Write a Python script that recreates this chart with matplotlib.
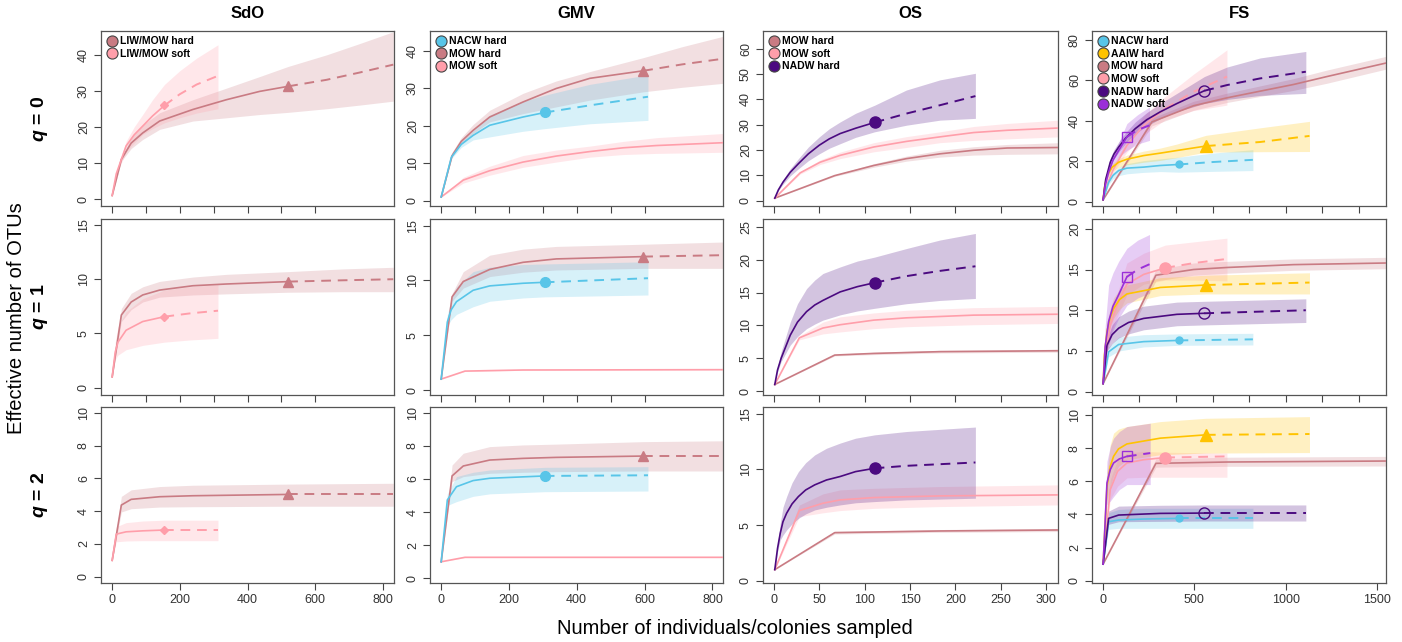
import matplotlib
matplotlib.use("Agg")
import matplotlib.pyplot as plt
import numpy as np
from matplotlib.lines import Line2D

plt.rcParams['font.family'] = ['Liberation Sans', 'DejaVu Sans']
plt.rcParams['mathtext.fontset'] = 'custom'
plt.rcParams['mathtext.it'] = 'Liberation Sans:italic:bold'
plt.rcParams['mathtext.rm'] = 'Liberation Sans:bold'

# ---------------- data: rows of (x, estimate, lower CI, upper CI) ----------------
# ---- SdO ----
SDO0_HARD = [(1, 1, 1, 1), (28, 11, 10.5, 11.5), (57, 15.5, 14, 17), (91, 18.3, 16.5, 20.5),
             (141, 21.6, 19.3, 23.9), (239, 24.8, 21.6, 27.5), (338, 27.5, 22.5, 30.7),
             (436, 29.8, 23.4, 33.9), (520, 31.2, 24.0, 36.7), (633, 33.0, 25.0, 39.9),
             (730, 35.0, 26.0, 43.0), (830, 37.2, 27.1, 46.3)]
SDO0_SOFT = [(1, 1, 1, 1), (13, 7, 6.5, 7.5), (28, 11, 10, 12), (42, 14.7, 13, 16),
             (66, 17.8, 15.5, 20), (91, 20.2, 17.9, 23.4), (120, 23.0, 19.5, 27.5),
             (155, 25.9, 21.1, 31.7), (200, 29.0, 22.5, 35.5), (250, 31.7, 23.8, 39.0),
             (313, 34.1, 25.0, 42.7)]
SDO1_HARD = [(1, 1, 1, 1), (28, 6.7, 6.1, 7.3), (57, 7.9, 7.2, 8.7), (91, 8.55, 7.9, 9.3),
             (141, 9.0, 8.35, 9.8), (239, 9.4, 8.55, 10.2), (338, 9.56, 8.65, 10.45),
             (520, 9.78, 8.8, 10.7), (680, 9.9, 8.85, 10.95), (830, 10.0, 8.85, 11.1)]
SDO1_SOFT = [(1, 1, 1, 1), (10, 3.3, 2.6, 4.2), (18, 4.2, 3.0, 5.6), (42, 5.3, 3.5, 7.0),
             (91, 6.1, 3.9, 8.2), (155, 6.55, 4.2, 9.0), (230, 6.85, 4.4, 9.3), (313, 7.1, 4.55, 9.5)]
SDO2_HARD = [(1, 1, 1, 1), (28, 4.37, 3.95, 4.9), (57, 4.72, 4.15, 5.3), (141, 4.88, 4.25, 5.5),
             (239, 4.94, 4.27, 5.58), (520, 5.02, 4.3, 5.65), (830, 5.02, 4.3, 5.7)]
SDO2_SOFT = [(1, 1, 1, 1), (13, 2.6, 2.13, 3.05), (42, 2.74, 2.18, 3.3), (91, 2.8, 2.2, 3.4),
             (155, 2.85, 2.2, 3.45), (313, 2.85, 2.2, 3.45)]
SDO_OBS = {'hard': 520, 'soft': 155}

# ---- GMV ----
GMV0_MOWH = [(1, 1, 1, 1), (33, 12, 11.6, 12.9), (60, 15.8, 15.1, 16.8), (95, 18.75, 17.9, 20.3),
             (144, 22.3, 21, 24.1), (242, 26.3, 23.2, 28.6), (340, 29.9, 25, 31.9),
             (439, 32.6, 26.8, 34.4), (596, 34.6, 29, 38.1), (710, 36.3, 30.2, 41),
             (830, 37.8, 31.25, 43.75)]
GMV0_NACW = [(1, 1, 1, 1), (31, 11.6, 11.2, 12), (60, 15.0, 14.2, 15.8), (95, 17.4, 16.2, 18.7),
             (144, 20.1, 17, 22.8), (242, 22.3, 18.5, 26.5), (306, 23.5, 19.2, 28.1),
             (439, 25.4, 20.5, 31), (610, 27.7, 21.4, 33.5)]
GMV0_MOWS = [(1, 1, 1, 1), (66, 5.5, 4.7, 6.25), (144, 8.0, 6.8, 9.2), (242, 10.3, 8.9, 12.05),
             (340, 11.9, 10.3, 13.5), (439, 13.1, 11.6, 14.55), (537, 14.1, 12.3, 15.8),
             (635, 14.7, 12.6, 16.8), (830, 15.45, 12.9, 17.9)]
GMV1_MOWH = [(1, 1, 1, 1), (33, 8.5, 8.1, 8.8), (66, 9.9, 9.3, 10.8), (144, 11.0, 10.35, 12.3),
             (242, 11.65, 10.75, 12.85), (340, 11.96, 10.95, 13.1), (596, 12.17, 11.1, 13.3),
             (830, 12.3, 11.1, 13.5)]
GMV1_NACW = [(1, 1, 1, 1), (19, 6.2, 5.8, 6.85), (30, 7.3, 6.4, 8.2), (46, 8.06, 6.9, 9.4),
             (95, 9.1, 7.6, 10.8), (144, 9.5, 8.1, 11.2), (242, 9.74, 8.4, 11.45),
             (306, 9.83, 8.5, 11.5), (610, 10.2, 8.67, 11.7)]
GMV1_MOWS = [(1, 1, 1, 1), (71, 1.73, 1.7, 1.76), (242, 1.83, 1.8, 1.86), (830, 1.86, 1.83, 1.89)]
GMV2_MOWH = [(1, 1, 1, 1), (33, 6.18, 5.84, 6.84), (66, 6.78, 6.14, 7.55), (144, 7.14, 6.34, 7.95),
             (242, 7.24, 6.4, 8.05), (340, 7.3, 6.44, 8.1), (596, 7.38, 6.48, 8.25),
             (830, 7.38, 6.48, 8.3)]
GMV2_NACW = [(1, 1, 1, 1), (19, 4.73, 4.4, 5.1), (46, 5.53, 4.63, 6.14), (95, 5.9, 4.95, 6.4),
             (144, 6.04, 5.1, 6.54), (306, 6.18, 5.23, 6.7), (610, 6.22, 5.27, 6.74)]
GMV2_MOWS = [(1, 1, 1, 1), (71, 1.27, 1.25, 1.29), (830, 1.27, 1.25, 1.29)]
GMV_OBS = {'mowh': 596, 'nacw': 306}

# ---- OS ----
OS0_NADW = [(1, 1, 1, 1), (5, 4.3, 4.0, 4.7), (10, 7.3, 6.5, 8.2), (18, 11.2, 9.8, 12.6),
            (27, 14.6, 12.6, 16.6), (38, 18.5, 15.8, 21.2), (50, 21.9, 18.5, 25.2),
            (61, 24.4, 20.7, 28.4), (73, 26.5, 22.5, 31.1), (90, 28.6, 25.0, 34.5),
            (111, 30.9, 27.2, 37.7), (146, 34.4, 29.8, 43.7), (183, 37.7, 31.8, 47.7),
            (222, 41.3, 32.5, 50.3)]
OS0_MOWS = [(1, 1, 1, 1), (29, 11, 10.5, 11.5), (51, 15.2, 14.3, 16.1), (73, 17.9, 16.6, 19.2),
            (110, 21.2, 19.3, 22.9), (146, 23.4, 21.0, 25.3), (183, 25.2, 22.9, 27.2),
            (220, 26.9, 23.8, 29.3), (257, 27.8, 24.4, 30.5), (314, 28.7, 25.2, 31.8)]
OS0_MOWH = [(1, 1, 1, 1), (67, 9.9, 9.6, 10.2), (110, 13.9, 13.2, 14.6), (146, 16.6, 15.6, 17.6),
            (183, 18.5, 17.2, 19.9), (220, 19.9, 18.0, 21.3), (257, 20.8, 18.3, 22.2),
            (314, 21.0, 18.5, 22.9)]
OS1_NADW = [(1, 1, 1, 1), (4, 3.2, 2.9, 3.6), (8, 5.0, 4.5, 6.0), (18, 8.5, 7.0, 10.5),
            (26, 10.5, 8.3, 13.3), (36, 12.1, 9.5, 15.6), (45, 13.1, 10.2, 16.9),
            (54, 13.8, 10.8, 17.9), (73, 15.1, 11.6, 18.9), (92, 15.9, 12.2, 19.8),
            (111, 16.5, 12.6, 20.4), (146, 17.5, 13.3, 21.7), (183, 18.3, 13.8, 23.0),
            (222, 19.0, 14.1, 24.0)]
OS1_MOWS = [(1, 1, 1, 1), (28, 8.1, 7.8, 8.4), (54, 9.6, 8.7, 10.5), (73, 10.1, 9.0, 11.3),
            (110, 10.8, 9.5, 11.9), (146, 11.15, 9.8, 12.3), (220, 11.56, 10.1, 12.7),
            (314, 11.7, 10.3, 12.9)]
OS1_MOWH = [(1, 1, 1, 1), (67, 5.48, 5.35, 5.6), (110, 5.73, 5.55, 5.9), (183, 6.0, 5.8, 6.2),
            (314, 6.14, 5.92, 6.36)]
OS2_NADW = [(1, 1, 1, 1), (4, 2.9, 2.6, 3.3), (7, 4.26, 3.66, 5.16), (10, 5.3, 4.1, 6.6),
            (14, 6.06, 4.56, 7.56), (20, 6.9, 5.1, 8.8), (27, 7.56, 5.6, 9.8), (35, 8.15, 6.0, 10.6),
            (45, 8.61, 6.36, 11.3), (58, 9.05, 6.6, 11.9), (73, 9.36, 6.81, 12.36),
            (90, 9.8, 7.0, 12.8), (111, 10.1, 7.11, 13.1), (146, 10.32, 7.26, 13.4),
            (222, 10.62, 7.41, 13.8)]
OS2_MOWS = [(1, 1, 1, 1), (28, 6.3, 5.76, 6.8), (54, 6.96, 6.1, 7.8), (73, 7.26, 6.3, 8.16),
            (110, 7.47, 6.5, 8.3), (183, 7.62, 6.66, 8.46), (314, 7.71, 6.81, 8.61)]
OS2_MOWH = [(1, 1, 1, 1), (67, 4.32, 4.2, 4.45), (183, 4.47, 4.35, 4.6), (314, 4.56, 4.42, 4.7)]
OS_OBS = {'nadw': 111}

# ---- FS ----
FS0_NACW = [(1, 1, 1, 1), (31, 9.6, 8.5, 10.8), (55, 13.0, 11.3, 14.5), (86, 15.4, 12.9, 17.0),
            (131, 16.6, 13.8, 18.8), (223, 17.1, 14.5, 20.3), (314, 17.9, 14.9, 21.2),
            (414, 18.4, 14.6, 22.0), (600, 19.6, 15.0, 24.0), (821, 20.7, 15.4, 25.7)]
FS0_AAIW = [(1, 1, 1, 1), (8, 7, 6.4, 7.7), (22, 12.9, 11.5, 14.3), (50, 17, 15, 18.8),
            (86, 19.5, 17, 21.2), (131, 21.0, 18.2, 23.0), (223, 22.8, 19.5, 25.0),
            (314, 24.0, 20.4, 26.5), (405, 25.3, 21.8, 28.5), (564, 27.5, 24.5, 32.8),
            (861, 29.5, 24.7, 36.5), (1131, 32.5, 24.8, 39.7)]
FS0_MOWH = [(1, 1, 1, 1), (268, 39.4, 37.5, 41.3), (496, 47.4, 45.2, 49.6), (679, 51.3, 49, 53.6),
            (861, 54.6, 52, 57.2), (1044, 57.9, 55, 60.8), (1226, 61.8, 58.5, 65),
            (1551, 68.5, 65.5, 71.8)]
FS0_MOWS = [(1, 1, 1, 1), (20, 8, 7.3, 8.8), (58, 16.2, 14.5, 18), (131, 27.8, 24.5, 31),
            (223, 37.7, 33, 42.5), (341, 46, 40.5, 52), (496, 54.3, 45, 63), (679, 61.8, 47.7, 75)]
FS0_NADWH = [(1, 1, 1, 1), (15, 11, 10, 12), (40, 19.5, 17.5, 21.5), (60, 23.5, 21.3, 25.7),
             (86, 27, 24.5, 29.5), (125, 31.5, 29, 34.2), (177, 36.1, 33.6, 39.4),
             (240, 40.5, 37.4, 44), (314, 44.4, 41, 48.5), (405, 48.5, 44.5, 53.5),
             (555, 54.8, 48.5, 61.8), (679, 57.6, 50.5, 66.5), (861, 60.9, 52.5, 71),
             (1111, 64.2, 53.5, 74.2)]
FS0_NADWS = [(1, 1, 1, 1), (12, 8, 7.3, 9), (31, 14.6, 13, 16.5), (55, 20.5, 18, 23.5),
             (86, 25.3, 22, 29), (131, 32, 25.3, 38.6), (190, 35.5, 28.5, 43), (255, 37.7, 30.3, 46.8)]
FS1_NACW = [(1, 1, 1, 1), (31, 4.9, 4.3, 5.5), (86, 5.8, 5.0, 6.7), (223, 6.15, 5.5, 7.0),
            (414, 6.3, 5.7, 7.1), (821, 6.43, 5.74, 7.17)]
FS1_AAIW = [(1, 1, 1, 1), (8, 4.5, 4, 5), (22, 7.4, 6.5, 8.3), (38, 9.0, 7.9, 10.1),
            (58, 10.2, 9.0, 11.5), (90, 11.3, 10.1, 12.5), (131, 12.0, 10.9, 13.1),
            (314, 12.8, 11.8, 14.0), (564, 13.1, 12.0, 14.3), (1131, 13.4, 12.0, 14.6)]
FS1_MOWH = [(1, 1, 1, 1), (290, 14.3, 13.6, 15.0), (496, 15.0, 14.3, 15.8), (679, 15.25, 14.55, 16.0),
            (1044, 15.6, 14.9, 16.3), (1551, 15.8, 15.1, 16.5)]
FS1_MOWS = [(1, 1, 1, 1), (15, 4.5, 3.9, 5.2), (40, 8.2, 7, 9.4), (86, 11.1, 9.6, 12.6),
            (131, 13.2, 11.9, 15.8), (223, 14.4, 13.2, 17.0), (341, 15.2, 13.7, 18.0),
            (500, 15.8, 13.7, 18.4), (679, 16.3, 13.6, 18.85)]
FS1_NADWH = [(1, 1, 1, 1), (22, 5.7, 5.0, 6.4), (50, 7.0, 5.9, 8.2), (86, 7.8, 6.6, 9.2),
             (140, 8.5, 7.1, 9.9), (223, 9.0, 7.6, 10.5), (405, 9.5, 8.1, 11.0),
             (555, 9.63, 8.2, 11.1), (1111, 10.0, 8.5, 11.4)]
FS1_NADWS = [(1, 1, 1, 1), (12, 5.5, 3.8, 8), (31, 8.6, 5.7, 13.1), (55, 10.5, 7.5, 14.6),
             (86, 11.9, 9.0, 16.0), (131, 14.1, 10.6, 17.6), (190, 15.0, 11.5, 18.6),
             (255, 15.65, 12.1, 19.3)]
FS2_AAIW = [(1, 1, 1, 1), (22, 5.67, 4.8, 6.5), (40, 6.9, 5.7, 8.2), (58, 7.5, 6.3, 8.9),
            (85, 7.95, 6.9, 9.15), (131, 8.25, 7.3, 9.3), (314, 8.6, 7.6, 9.6),
            (564, 8.8, 7.7, 9.8), (1131, 8.85, 7.73, 9.9)]
FS2_NADWS = [(1, 1, 1, 1), (22, 5.9, 4.6, 7.2), (40, 6.7, 4.8, 8.1), (58, 7.1, 5.07, 8.6),
             (90, 7.35, 5.5, 9.0), (131, 7.5, 5.8, 9.3), (259, 7.7, 5.8, 9.5)]
FS2_MOWS = [(1, 1, 1, 1), (40, 5.5, 4.9, 6.1), (80, 6.6, 5.7, 7.3), (131, 7.1, 6.2, 7.7),
            (223, 7.3, 6.24, 7.8), (341, 7.43, 6.24, 7.75), (679, 7.5, 6.24, 7.7)]
FS2_MOWH = [(1, 1, 1, 1), (290, 7.08, 6.85, 7.35), (679, 7.16, 6.9, 7.45), (1551, 7.22, 6.92, 7.5)]
FS2_NADWH = [(1, 1, 1, 1), (31, 3.76, 3.4, 4.2), (86, 3.96, 3.56, 4.5), (314, 4.06, 3.58, 4.55),
             (555, 4.08, 3.6, 4.57), (1111, 4.08, 3.6, 4.57)]
FS2_NACW = [(1, 1, 1, 1), (31, 3.56, 3.1, 4.1), (86, 3.66, 3.16, 4.3), (223, 3.72, 3.16, 4.37),
            (414, 3.76, 3.16, 4.37), (821, 3.76, 3.16, 4.37)]
FS_OBS = {'nacw': 414, 'aaiw': 564, 'mows': 341, 'nadwh': 555, 'nadws': 131}

COLUMN_TITLES = ["SdO", "GMV", "OS", "FS"]
Q_ORDERS = [0, 1, 2]
LEGENDS = [["LIW/MOW hard", "LIW/MOW soft"],
           ["NACW hard", "MOW hard", "MOW soft"],
           ["MOW hard", "MOW soft", "NADW hard"],
           ["NACW hard", "AAIW hard", "MOW hard", "MOW soft", "NADW hard", "NADW soft"]]
X_LABEL = "Number of individuals/colonies sampled"
Y_LABEL = "Effective number of OTUs"

# ---------------- styles ----------------
C_MOWH = '#C97B83'
C_MOWS = '#FF9EAA'
C_NACW = '#58C5E8'
C_AAIW = '#FFC300'
C_NADWH = '#4B0A80'
C_NADWS = '#9A2FD8'

# panel content: (data, colour, observed size, marker, filled, markersize)
PANELS = {
    (0, 0): [(SDO0_HARD, C_MOWH, SDO_OBS['hard'], '^', True, 7), (SDO0_SOFT, C_MOWS, SDO_OBS['soft'], 'D', True, 4)],
    (1, 0): [(SDO1_HARD, C_MOWH, SDO_OBS['hard'], '^', True, 7), (SDO1_SOFT, C_MOWS, SDO_OBS['soft'], 'D', True, 4)],
    (2, 0): [(SDO2_HARD, C_MOWH, SDO_OBS['hard'], '^', True, 7), (SDO2_SOFT, C_MOWS, SDO_OBS['soft'], 'D', True, 4)],
    (0, 1): [(GMV0_MOWS, C_MOWS, None, None, True, 0), (GMV0_MOWH, C_MOWH, GMV_OBS['mowh'], '^', True, 7),
             (GMV0_NACW, C_NACW, GMV_OBS['nacw'], 'o', True, 7)],
    (1, 1): [(GMV1_MOWS, C_MOWS, None, None, True, 0), (GMV1_MOWH, C_MOWH, GMV_OBS['mowh'], '^', True, 7),
             (GMV1_NACW, C_NACW, GMV_OBS['nacw'], 'o', True, 7)],
    (2, 1): [(GMV2_MOWS, C_MOWS, None, None, True, 0), (GMV2_MOWH, C_MOWH, GMV_OBS['mowh'], '^', True, 7),
             (GMV2_NACW, C_NACW, GMV_OBS['nacw'], 'o', True, 7)],
    (0, 2): [(OS0_MOWH, C_MOWH, None, None, True, 0), (OS0_MOWS, C_MOWS, None, None, True, 0),
             (OS0_NADW, C_NADWH, OS_OBS['nadw'], 'o', True, 8)],
    (1, 2): [(OS1_MOWH, C_MOWH, None, None, True, 0), (OS1_MOWS, C_MOWS, None, None, True, 0),
             (OS1_NADW, C_NADWH, OS_OBS['nadw'], 'o', True, 8)],
    (2, 2): [(OS2_MOWH, C_MOWH, None, None, True, 0), (OS2_MOWS, C_MOWS, None, None, True, 0),
             (OS2_NADW, C_NADWH, OS_OBS['nadw'], 'o', True, 8)],
    (0, 3): [(FS0_MOWH, C_MOWH, None, None, True, 0), (FS0_MOWS, C_MOWS, FS_OBS['mows'], 'o', True, 0),
             (FS0_NACW, C_NACW, FS_OBS['nacw'], 'o', True, 5), (FS0_AAIW, C_AAIW, FS_OBS['aaiw'], '^', True, 8),
             (FS0_NADWH, C_NADWH, FS_OBS['nadwh'], 'o', False, 8), (FS0_NADWS, C_NADWS, FS_OBS['nadws'], 's', False, 7)],
    (1, 3): [(FS1_MOWH, C_MOWH, None, None, True, 0), (FS1_MOWS, C_MOWS, FS_OBS['mows'], 'o', True, 8),
             (FS1_NACW, C_NACW, FS_OBS['nacw'], 'o', True, 5), (FS1_AAIW, C_AAIW, FS_OBS['aaiw'], '^', True, 8),
             (FS1_NADWH, C_NADWH, FS_OBS['nadwh'], 'o', False, 8), (FS1_NADWS, C_NADWS, FS_OBS['nadws'], 's', False, 7)],
    (2, 3): [(FS2_MOWH, C_MOWH, None, None, True, 0), (FS2_MOWS, C_MOWS, FS_OBS['mows'], 'o', True, 8),
             (FS2_NACW, C_NACW, FS_OBS['nacw'], 'o', True, 5), (FS2_AAIW, C_AAIW, FS_OBS['aaiw'], '^', True, 8),
             (FS2_NADWH, C_NADWH, FS_OBS['nadwh'], 'o', False, 8), (FS2_NADWS, C_NADWS, FS_OBS['nadws'], 's', False, 7)],
}
LEGEND_COLORS = [[C_MOWH, C_MOWS], [C_NACW, C_MOWH, C_MOWS], [C_MOWH, C_MOWS, C_NADWH],
                 [C_NACW, C_AAIW, C_MOWH, C_MOWS, C_NADWH, C_NADWS]]

XLIMS = [(-32, 832), (-32, 831), (-12, 313), (-60, 1550)]
XT_BOTTOM = [[0, 200, 400, 600, 800], [0, 200, 400, 600, 800], [0, 50, 100, 150, 200, 250, 300],
             [0, 500, 1000, 1500]]
XT_UPPER = [list(range(0, 601, 100)), list(range(0, 601, 100)), list(range(0, 301, 50)),
            list(range(0, 1401, 200))]
YLIMS = [[(-1.9, 46.5), (-1.4, 45.2), (-2.1, 67), (-2.1, 84.3)],
         [(-0.67, 15.55), (-0.45, 15.6), (-0.6, 26.2), (-0.4, 21.2)],
         [(-0.38, 10.35), (-0.28, 10.34), (-0.2, 15.6), (-0.14, 10.48)]]
YSTEPS = [[10, 10, 10, 20], [5, 5, 5, 5], [2, 2, 5, 2]]

W, H = 1402, 642
COL_X = [(101, 394), (430, 723), (763, 1058), (1092, 1386)]
ROW_Y = [(31, 206), (219, 395), (407, 583)]

fig = plt.figure(figsize=(W / 100, H / 100), dpi=100)
for r in range(3):
    for c in range(4):
        x0, x1 = COL_X[c]
        y0, y1 = ROW_Y[r]
        ax = fig.add_axes([x0 / W, 1 - y1 / H, (x1 - x0) / W, (y1 - y0) / H])
        for item in PANELS[(r, c)]:
            pts, col, obs, mk, filled, ms = item
            a = np.array(pts, float)
            x, y, lo, hi = a.T
            ax.fill_between(x, lo, hi, color=col, alpha=0.24, lw=0, zorder=1)
        for item in PANELS[(r, c)]:
            pts, col, obs, mk, filled, ms = item
            a = np.array(pts, float)
            x, y, lo, hi = a.T
            if obs is None:
                ax.plot(x, y, color=col, lw=1.2, zorder=3, solid_joinstyle='round')
            else:
                m1 = x <= obs
                m2 = x >= obs
                ax.plot(x[m1], y[m1], color=col, lw=1.2, zorder=3, solid_joinstyle='round')
                ax.plot(x[m2], y[m2], color=col, lw=1.4, ls=(0, (5, 3.5)), zorder=3)
                if ms > 0:
                    yo = y[np.isclose(x, obs)][0]
                    ax.plot([obs], [yo], marker=mk, ms=ms, color=col,
                            mfc=col if filled else 'none', mew=1.0, zorder=4, ls='none')
        ax.set_xlim(*XLIMS[c])
        ax.set_ylim(*YLIMS[r][c])
        yl = YLIMS[r][c]
        st = YSTEPS[r][c]
        yt = np.arange(0, yl[1] + 1e-9, st)
        ax.set_yticks(yt)
        ax.set_yticklabels([f"{int(v)}" for v in yt], rotation=90, va='center')
        if r == 2:
            ax.set_xticks(XT_BOTTOM[c])
            ax.set_xticklabels([str(v) for v in XT_BOTTOM[c]])
        else:
            ax.set_xticks(XT_UPPER[c])
            ax.set_xticklabels([])
        ax.tick_params(direction='out', length=5, width=0.8, colors='#444444',
                       labelsize=9, labelcolor='#333333', pad=3)
        for s in ax.spines.values():
            s.set_color('#555555')
            s.set_linewidth(0.9)
        if r == 0:
            handles = [Line2D([], [], ls='none', marker='o', ms=8, mfc=lc, mec='#444444', mew=0.8)
                       for lc in LEGEND_COLORS[c]]
            ax.legend(handles, LEGENDS[c], loc='upper left', frameon=False,
                      prop={'weight': 'bold', 'size': 7.5}, handletextpad=0.1,
                      labelspacing=0.25, borderaxespad=0.2, borderpad=0.3,
                      handlelength=1.2)
            ax.set_title(COLUMN_TITLES[c], fontsize=12, fontweight='bold', pad=9)

for r, q in enumerate(Q_ORDERS):
    y0, y1 = ROW_Y[r]
    fig.text(40 / W, 1 - (y0 + y1) / 2 / H, f"$q$ = {q}", rotation=90, ha='center', va='center',
             fontsize=14, fontweight='bold')

fig.text(17 / W, 1 - 318 / H, Y_LABEL, rotation=90, ha='center', va='center', fontsize=14.5)
fig.text(735 / W, 1 - 628 / H, X_LABEL, ha='center', va='center', fontsize=14.5)

fig.savefig("out.png", dpi=100)
